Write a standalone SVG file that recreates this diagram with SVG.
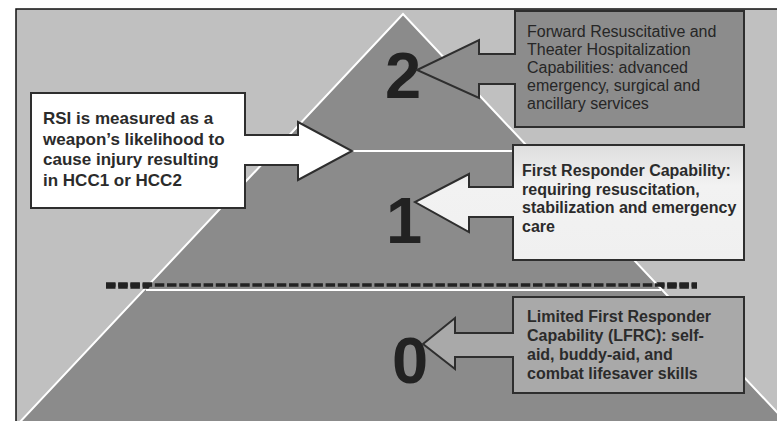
<svg xmlns="http://www.w3.org/2000/svg" width="777" height="421" viewBox="0 0 777 421">
  <defs>
    <linearGradient id="gC" x1="0" y1="0" x2="0" y2="1">
      <stop offset="0" stop-color="#dedede"/>
      <stop offset="0.35" stop-color="#f2f2f2"/>
      <stop offset="1" stop-color="#f0f0f0"/>
    </linearGradient>
    <clipPath id="outside">
      <polygon points="0,270 161,270 141,300 0,300"/>
      <polygon points="645,270 777,270 777,300 673,300"/>
    </clipPath>
  </defs>
  <style>
    .callout { stroke: #2e2e2e; stroke-width: 2; stroke-linejoin: miter; }
    .bold { font-family: "Liberation Sans", Arial, sans-serif; font-weight: bold; fill: #2b2b2b; }
    .reg { font-family: "Liberation Sans", Arial, sans-serif; font-weight: normal; fill: #262626; font-size: 16px; }
    .num { font-family: "Liberation Sans", Arial, sans-serif; font-weight: bold; font-size: 65px; fill: #222; }
    .tier { stroke: #ffffff; stroke-width: 2; fill: none; }
  </style>

  <!-- page -->
  <rect x="0" y="0" width="777" height="421" fill="#ffffff"/>
  <rect x="16" y="9" width="770" height="420" fill="#c0c0c0"/>

  <!-- pyramid -->
  <g id="pyramid">
    <polygon points="403,14 3,440 803,440" fill="#8b8b8b"/>
    <polyline class="tier" points="3,440 403,14 803,440"/>
    <line class="tier" x1="275" y1="151" x2="531" y2="151"/>
    <line class="tier" x1="146" y1="290" x2="661" y2="290"/>
  </g>

  <!-- frame -->
  <path d="M16,430 V9 H790" fill="none" stroke="#111" stroke-width="1.5"/>

  <!-- dashed line -->
  <g id="dashed-line">
    <line x1="106" y1="285" x2="697" y2="285" stroke="#222" stroke-width="3.5" stroke-dasharray="9.5 2.7"/>
    <line x1="106" y1="285.5" x2="697" y2="285.5" stroke="#222" stroke-width="6.5" stroke-dasharray="9.5 2.7" clip-path="url(#outside)"/>
  </g>

  <!-- level numerals -->
  <g id="level-2"><text class="num" x="385" y="98">2</text></g>
  <g id="level-1"><text class="num" x="386" y="243">1</text></g>
  <g id="level-0"><text class="num" x="392" y="383">0</text></g>

  <!-- RSI callout -->
  <g id="rsi-callout">
    <path class="callout" fill="#ffffff" d="M31,93 H245 V135 H298 V122 L352,151 L298,180 V165 H245 V208 H31 Z"/>
    <text class="bold" font-size="17">
      <tspan x="43" y="124">RSI is measured as a</tspan>
      <tspan x="43" y="144.6">weapon’s likelihood to</tspan>
      <tspan x="43" y="165.2">cause injury resulting</tspan>
      <tspan x="43" y="185.8">in HCC1 or HCC2</tspan>
    </text>
  </g>

  <!-- Level 2 callout -->
  <g id="forward-callout">
    <path class="callout" fill="#8c8c8c" d="M515,11 H744 V127 H515 V84 H479 V98 L417,70 L479,40 V54 H515 Z"/>
    <text class="reg">
      <tspan x="527" y="37">Forward Resuscitative and</tspan>
      <tspan x="527" y="55">Theater Hospitalization</tspan>
      <tspan x="527" y="73">Capabilities: advanced</tspan>
      <tspan x="527" y="91">emergency, surgical and</tspan>
      <tspan x="527" y="109">ancillary services</tspan>
    </text>
  </g>

  <!-- Level 1 callout -->
  <g id="first-responder-callout">
    <path class="callout" fill="url(#gC)" d="M513,145 H744 V260 H513 V217 H469 V232 L415,202 L469,174 V187 H513 Z"/>
    <text class="bold" font-size="16">
      <tspan x="522" y="176">First Responder Capability:</tspan>
      <tspan x="522" y="194.7">requiring resuscitation,</tspan>
      <tspan x="522" y="213.4">stabilization and emergency</tspan>
      <tspan x="522" y="232">care</tspan>
    </text>
  </g>

  <!-- Level 0 callout -->
  <g id="lfrc-callout">
    <path class="callout" fill="#a9a9a9" d="M513,297 H744 V393 H513 V357 H455 V369 L423,344 L455,318 V333 H513 Z"/>
    <text class="bold" font-size="16">
      <tspan x="527" y="322">Limited First Responder</tspan>
      <tspan x="527" y="341">Capability (LFRC): self-</tspan>
      <tspan x="527" y="360">aid, buddy-aid, and</tspan>
      <tspan x="527" y="379">combat lifesaver skills</tspan>
    </text>
  </g>
</svg>
